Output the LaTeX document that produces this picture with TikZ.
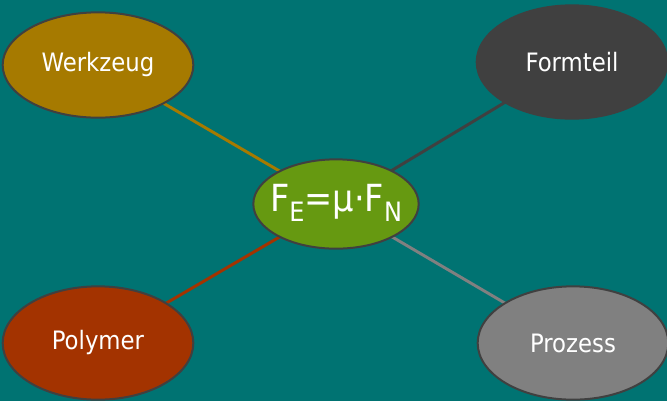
\documentclass[tikz,border=0pt]{standalone}
\usepackage{fontspec}
\setmainfont{DejaVu Sans Condensed}
\usetikzlibrary{shapes.geometric}
\definecolor{bg}{HTML}{007372}
\definecolor{wz}{HTML}{A67A00}
\definecolor{ft}{HTML}{404040}
\definecolor{pm}{HTML}{A33300}
\definecolor{pz}{HTML}{808080}
\definecolor{ct}{HTML}{669911}
\definecolor{rim}{HTML}{404040}
\tikzset{
  blob/.style={ellipse, draw=rim, line width=1.5pt, inner sep=0pt,
    text=white, font=\fontsize{19}{22}\selectfont},
  link/.style={line width=2.2pt}
}
\begin{document}
\begin{tikzpicture}[x=0.75pt,y=-0.75pt]
\fill[bg] (0,0) rectangle (667,401);
\useasboundingbox (0,0) rectangle (667,401);
\coordinate (cc) at (336,204);
\coordinate (cw) at (98,65);
\coordinate (cf) at (572,62);
\coordinate (cp) at (98,343);
\coordinate (cz) at (573,343);
\draw[link, wz] (cc) -- (cw);
\draw[link, ft] (cc) -- (cf);
\draw[link, pm] (cc) -- (cp);
\draw[link, pz] (cc) -- (cz);
\node[blob, fill=wz, minimum width=143pt, minimum height=79pt] (w) at (cw) {Werkzeug};
\node[blob, fill=ft, minimum width=143pt, minimum height=85pt] (f) at (cf) {Formteil};
\node[blob, fill=pm, minimum width=143pt, minimum height=85pt] (p) at (cp) {Polymer};
\node[blob, fill=pz, minimum width=143pt, minimum height=85pt] (z) at (cz) {Prozess};
\node[blob, fill=ct, minimum width=124pt, minimum height=67pt,
  label={[text=white, font=\fontsize{28}{32}\selectfont, yshift=1pt]center:F\raisebox{-7.5pt}{\fontsize{20}{24}\selectfont E}=μ·F\raisebox{-7.5pt}{\fontsize{20}{24}\selectfont N}}] (c) at (cc) {};
\end{tikzpicture}
\end{document}
